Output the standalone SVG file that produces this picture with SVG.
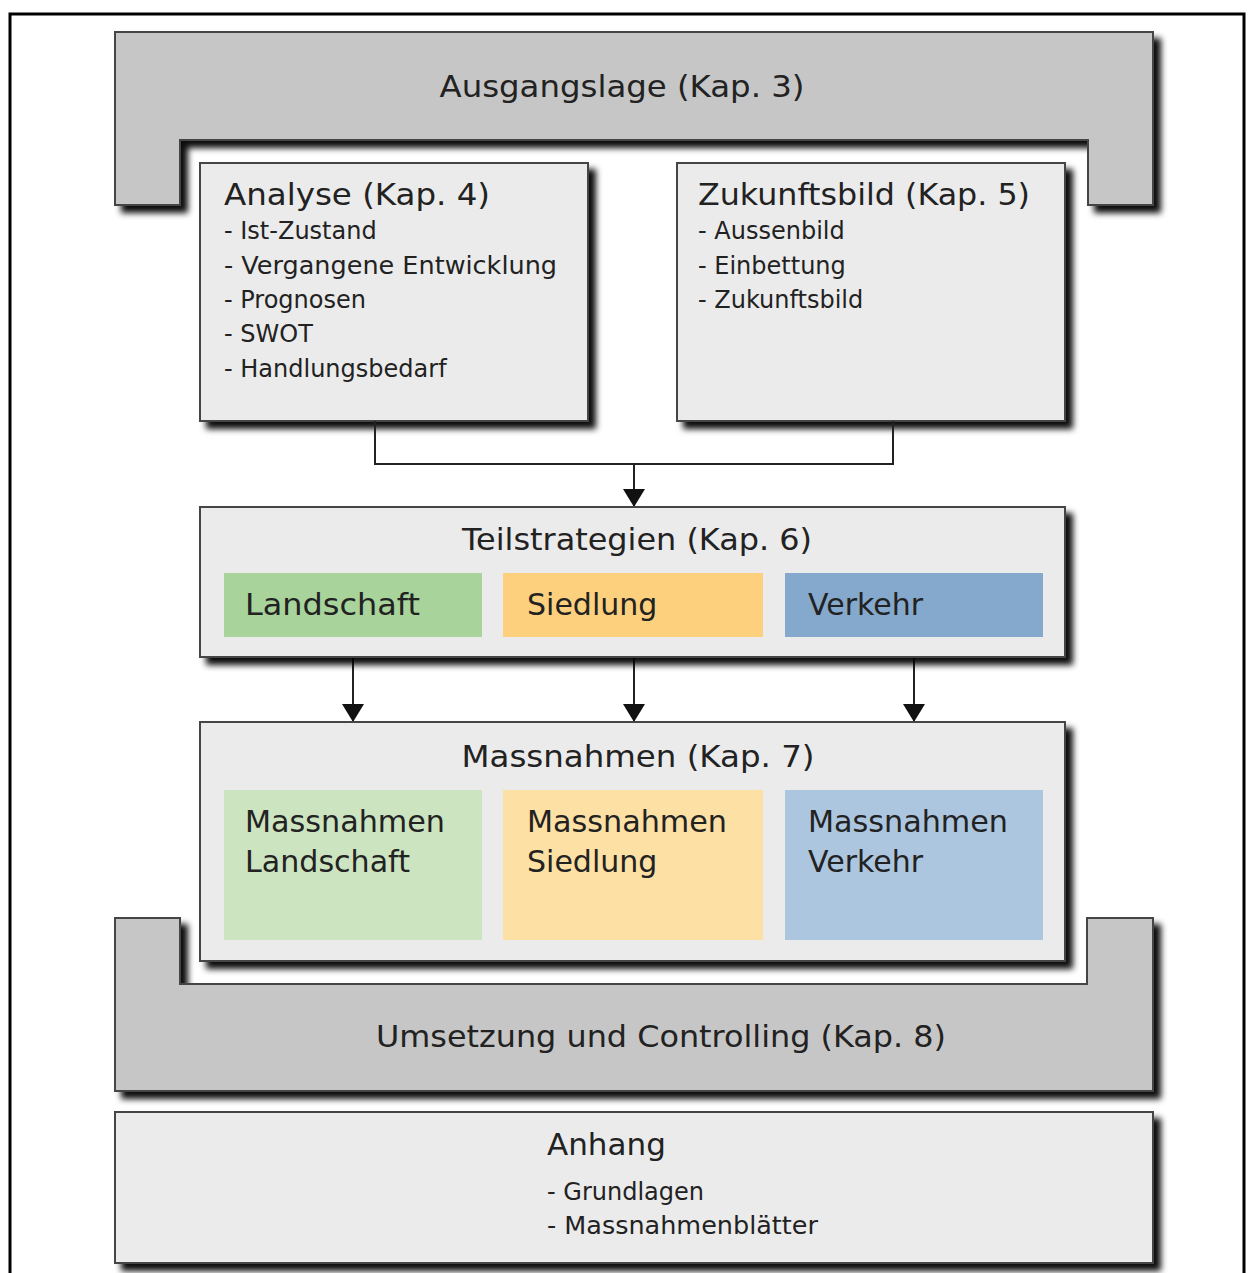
<svg xmlns="http://www.w3.org/2000/svg" width="1249" height="1273" viewBox="0 0 1249 1273">
<defs>
<filter id="sh" x="-5%" y="-5%" width="115%" height="125%">
<feDropShadow dx="7" dy="7" stdDeviation="3" flood-color="#000" flood-opacity="0.95"/>
</filter>
<marker id="arr" viewBox="0 0 18 22" refX="18" refY="11" markerWidth="18" markerHeight="22" markerUnits="userSpaceOnUse" orient="auto">
<path d="M0,0 L18,11 L0,22 Z" fill="#111"/>
</marker>
<style>
.gray{fill:#c6c6c6;stroke:#444;stroke-width:2}
.box{fill:#ebebeb;stroke:#444;stroke-width:2}
text{font-family:"DejaVu Sans","Verdana",sans-serif;fill:#222}
.h{font-size:31px}
.li{font-size:24px}
.sub{font-size:30px}
.con{fill:none;stroke:#222;stroke-width:2}
</style>
</defs>
<rect x="0" y="0" width="1249" height="1273" fill="#fff"/>
<rect x="10" y="14" width="1234" height="1275" fill="none" stroke="#000" stroke-width="3"/>

<g id="ausgangslage">
<path class="gray" filter="url(#sh)" d="M115,32 H1153 V205 H1088 V140 H180 V205 H115 Z"/>
<text class="h" x="622" y="97" text-anchor="middle" textLength="365" lengthAdjust="spacingAndGlyphs">Ausgangslage (Kap. 3)</text>
</g>

<g id="analyse">
<rect class="box" filter="url(#sh)" x="200" y="163" width="388" height="258"/>
<text class="h" x="224" y="205" textLength="266" lengthAdjust="spacingAndGlyphs">Analyse (Kap. 4)</text>
<text class="li" x="224" y="239">- Ist-Zustand</text>
<text class="li" x="224" y="274" textLength="333" lengthAdjust="spacingAndGlyphs">- Vergangene Entwicklung</text>
<text class="li" x="224" y="308">- Prognosen</text>
<text class="li" x="224" y="342">- SWOT</text>
<text class="li" x="224" y="377">- Handlungsbedarf</text>
</g>

<g id="zukunftsbild">
<rect class="box" filter="url(#sh)" x="677" y="163" width="388" height="258"/>
<text class="h" x="698" y="205" textLength="332" lengthAdjust="spacingAndGlyphs">Zukunftsbild (Kap. 5)</text>
<text class="li" x="698" y="239">- Aussenbild</text>
<text class="li" x="698" y="274">- Einbettung</text>
<text class="li" x="698" y="308">- Zukunftsbild</text>
</g>

<g id="connectors">
<path class="con" d="M375,421 V464 H893 V421"/>
<path class="con" d="M634,464 V507" marker-end="url(#arr)"/>
<path class="con" d="M353,657 V722" marker-end="url(#arr)"/>
<path class="con" d="M634,657 V722" marker-end="url(#arr)"/>
<path class="con" d="M914,657 V722" marker-end="url(#arr)"/>
</g>

<g id="teilstrategien">
<rect class="box" filter="url(#sh)" x="200" y="507" width="865" height="150"/>
<text class="h" x="637" y="550" text-anchor="middle" textLength="350" lengthAdjust="spacingAndGlyphs">Teilstrategien (Kap. 6)</text>
<rect x="224" y="573" width="258" height="64" fill="#a8d49c"/>
<rect x="503" y="573" width="260" height="64" fill="#fdd07e"/>
<rect x="785" y="573" width="258" height="64" fill="#85a9cc"/>
<text class="sub" x="245" y="615" textLength="175" lengthAdjust="spacingAndGlyphs">Landschaft</text>
<text class="sub" x="527" y="615">Siedlung</text>
<text class="sub" x="808" y="615">Verkehr</text>
</g>

<g id="umsetzung">
<path class="gray" filter="url(#sh)" d="M115,918 H180 V984 H1087 V918 H1153 V1091 H115 Z"/>
<text class="h" x="661" y="1047" text-anchor="middle" textLength="570" lengthAdjust="spacingAndGlyphs">Umsetzung und Controlling (Kap. 8)</text>
</g>

<g id="massnahmen">
<rect class="box" filter="url(#sh)" x="200" y="722" width="865" height="239"/>
<text class="h" x="638" y="767" text-anchor="middle" textLength="353" lengthAdjust="spacingAndGlyphs">Massnahmen (Kap. 7)</text>
<rect x="224" y="790" width="258" height="150" fill="#cce4c0"/>
<rect x="503" y="790" width="260" height="150" fill="#fde0a4"/>
<rect x="785" y="790" width="258" height="150" fill="#adc6df"/>
<text class="sub" x="245" y="832" textLength="200" lengthAdjust="spacingAndGlyphs">Massnahmen</text>
<text class="sub" x="245" y="872" textLength="165" lengthAdjust="spacingAndGlyphs">Landschaft</text>
<text class="sub" x="527" y="832" textLength="200" lengthAdjust="spacingAndGlyphs">Massnahmen</text>
<text class="sub" x="527" y="872">Siedlung</text>
<text class="sub" x="808" y="832" textLength="200" lengthAdjust="spacingAndGlyphs">Massnahmen</text>
<text class="sub" x="808" y="872">Verkehr</text>
</g>

<g id="anhang">
<rect class="box" filter="url(#sh)" x="115" y="1112" width="1038" height="151"/>
<text class="h" x="547" y="1155">Anhang</text>
<text class="li" x="547" y="1200">- Grundlagen</text>
<text class="li" x="547" y="1234" textLength="271" lengthAdjust="spacingAndGlyphs">- Massnahmenblätter</text>
</g>
</svg>
